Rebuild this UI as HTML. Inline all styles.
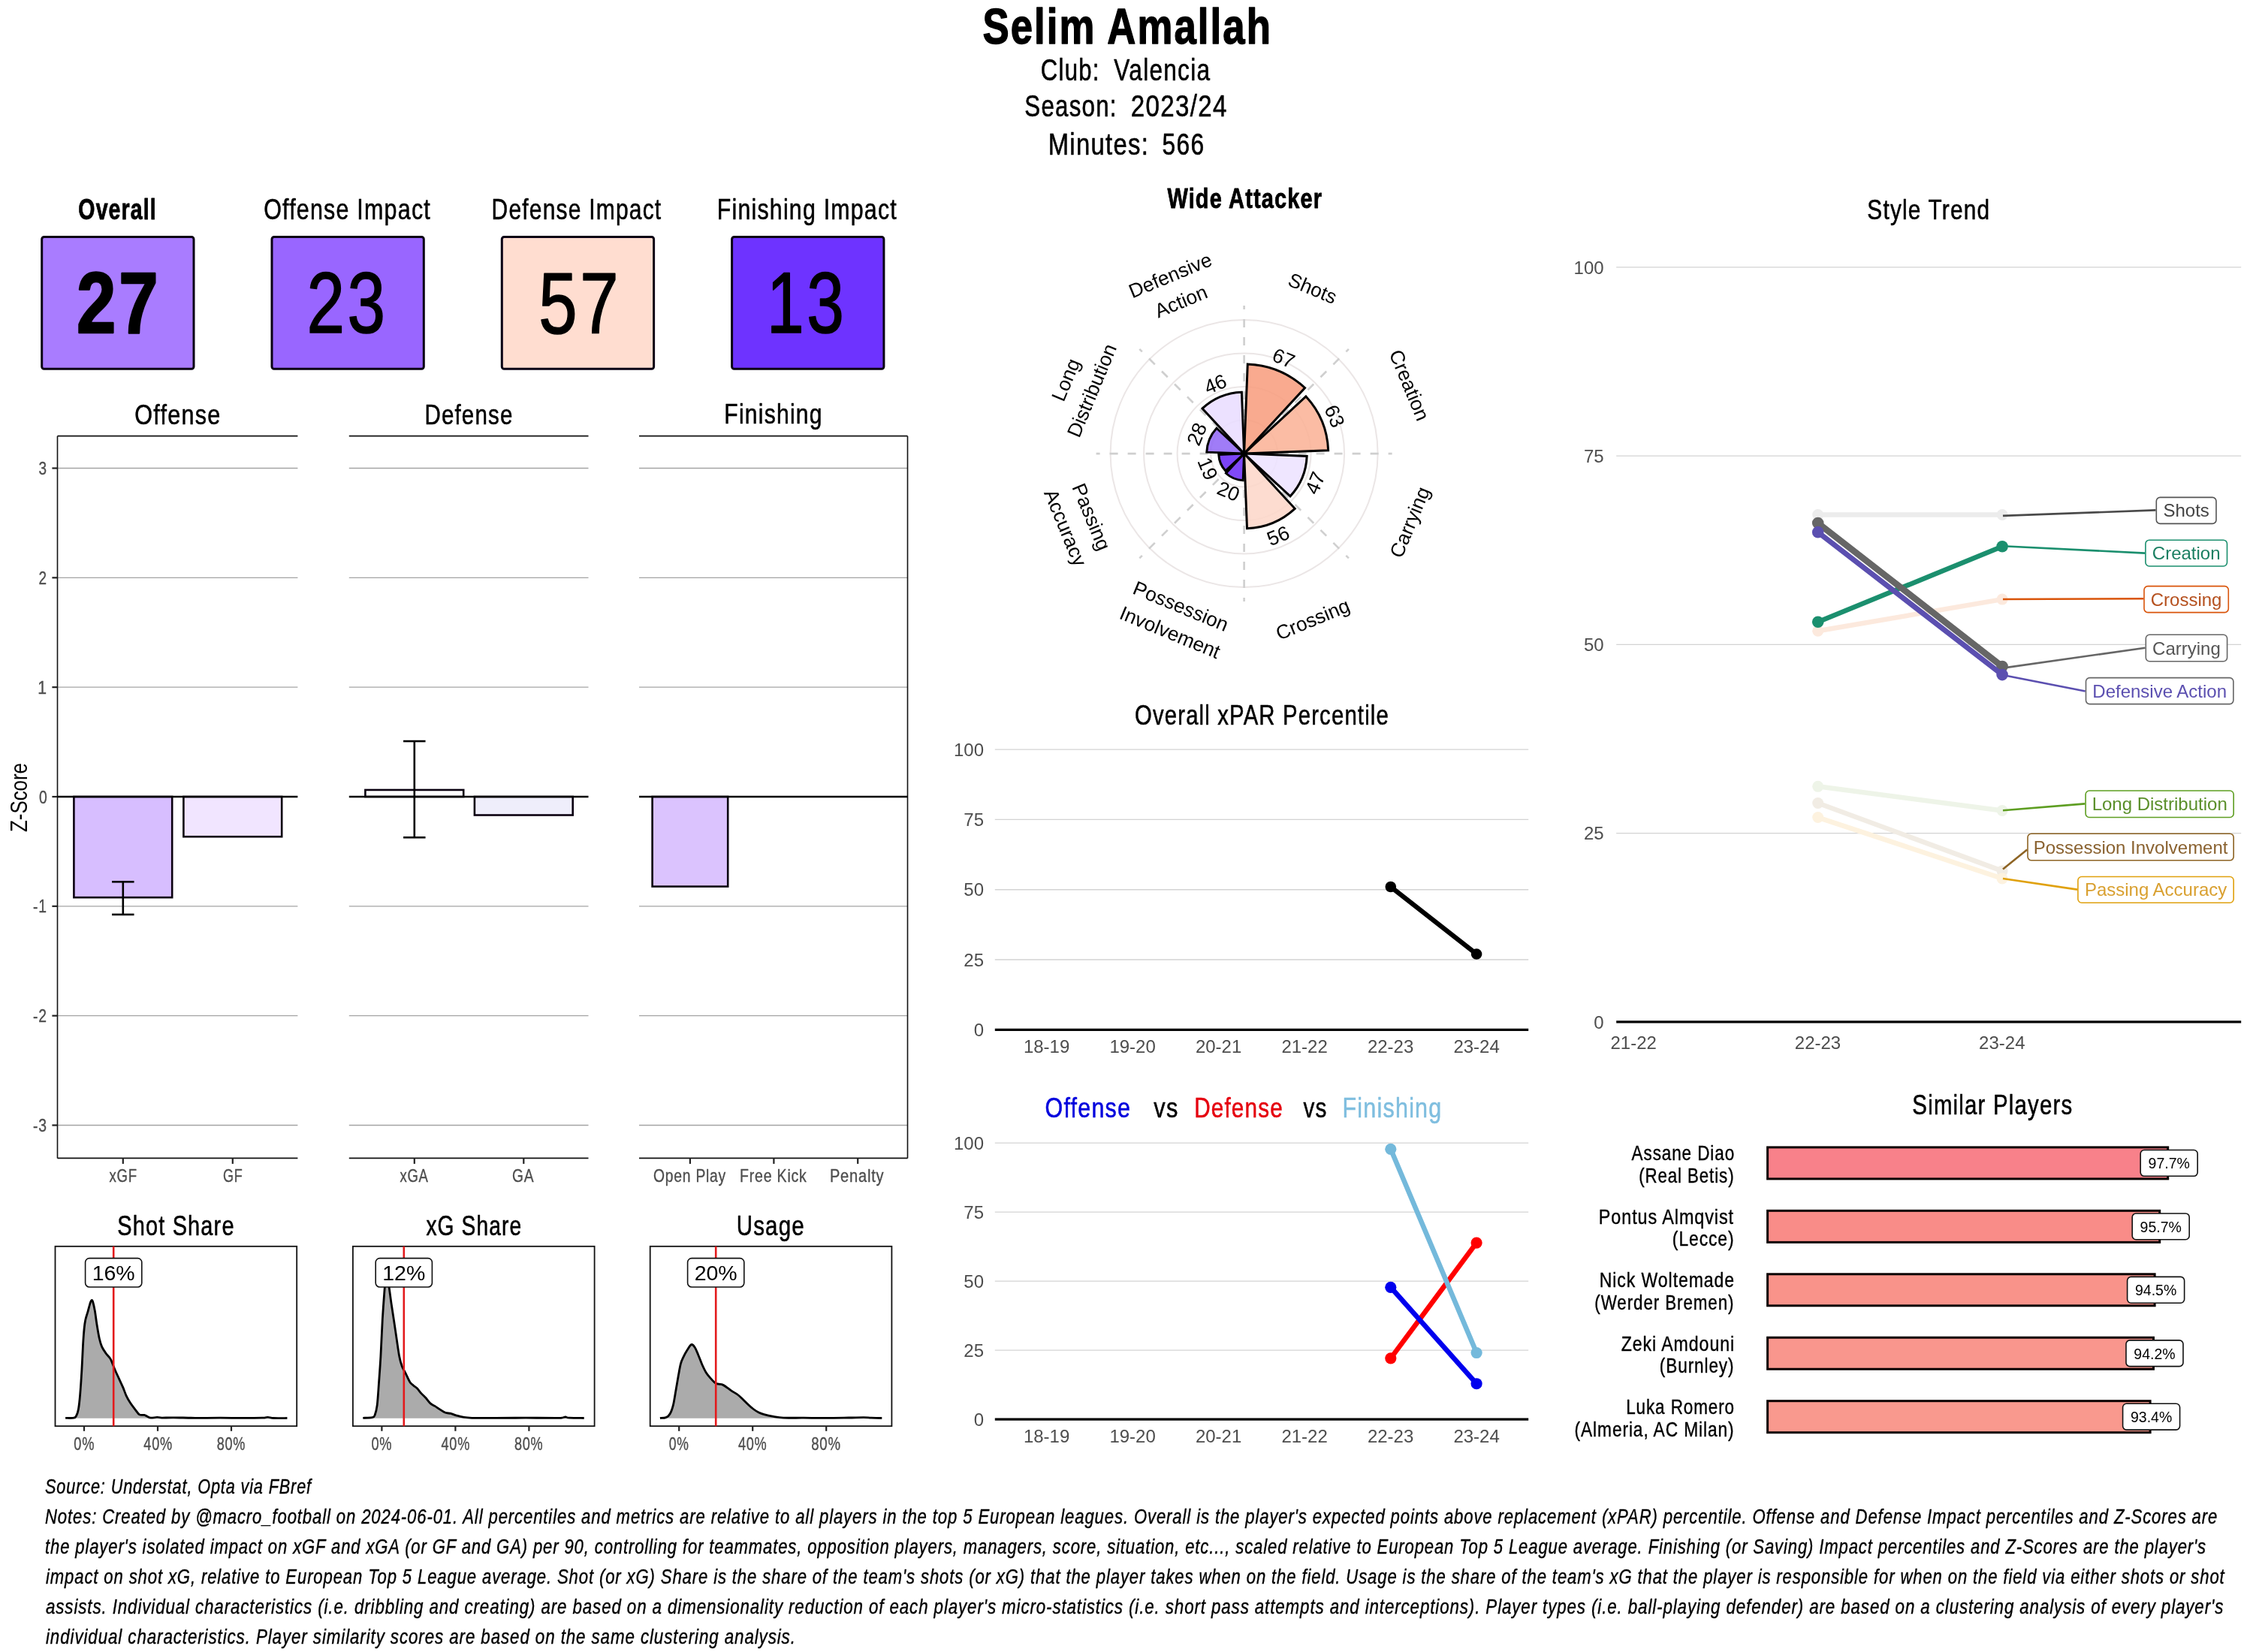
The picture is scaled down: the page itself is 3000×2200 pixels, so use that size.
<!DOCTYPE html>
<html><head><meta charset="utf-8"><style>
html,body{margin:0;padding:0;background:#fff;width:3000px;height:2200px;overflow:hidden}
svg{display:block;will-change:transform}
text{font-family:"Liberation Sans", sans-serif}
</style></head><body>
<svg xmlns="http://www.w3.org/2000/svg" width="3000" height="2200" viewBox="0 0 3000 2200">
<rect width="3000" height="2200" fill="#fff"/>
<text x="1308.47" y="58.00" font-size="67.30" fill="#000" stroke="#000" stroke-width="1.48" stroke-linejoin="round" font-weight="bold" textLength="385.57" lengthAdjust="spacingAndGlyphs" style="white-space:pre;letter-spacing:0.04em">Selim Amallah</text>
<text x="1385.82" y="107.00" font-size="40.70" fill="#000" stroke="#000" stroke-width="0.61" stroke-linejoin="round" textLength="78.75" lengthAdjust="spacingAndGlyphs" style="white-space:pre;letter-spacing:0.04em">Club:</text>
<text x="1483.35" y="107.00" font-size="40.70" fill="#000" stroke="#000" stroke-width="0.61" stroke-linejoin="round" textLength="128.89" lengthAdjust="spacingAndGlyphs" style="white-space:pre;letter-spacing:0.04em">Valencia</text>
<text x="1364.33" y="155.00" font-size="40.70" fill="#000" stroke="#000" stroke-width="0.61" stroke-linejoin="round" textLength="123.41" lengthAdjust="spacingAndGlyphs" style="white-space:pre;letter-spacing:0.04em">Season:</text>
<text x="1505.72" y="155.00" font-size="40.70" fill="#000" stroke="#000" stroke-width="0.61" stroke-linejoin="round" textLength="128.92" lengthAdjust="spacingAndGlyphs" style="white-space:pre;letter-spacing:0.04em">2023/24</text>
<text x="1395.68" y="205.80" font-size="40.70" fill="#000" stroke="#000" stroke-width="0.61" stroke-linejoin="round" textLength="134.50" lengthAdjust="spacingAndGlyphs" style="white-space:pre;letter-spacing:0.04em">Minutes:</text>
<text x="1547.61" y="205.80" font-size="40.70" fill="#000" stroke="#000" stroke-width="0.61" stroke-linejoin="round" textLength="57.02" lengthAdjust="spacingAndGlyphs" style="white-space:pre;letter-spacing:0.04em">566</text>
<text x="104.33" y="292.00" font-size="38.00" fill="#000" stroke="#000" stroke-width="0.84" stroke-linejoin="round" font-weight="bold" textLength="104.61" lengthAdjust="spacingAndGlyphs" style="white-space:pre;letter-spacing:0.04em">Overall</text>
<text x="351.15" y="292.00" font-size="38.00" fill="#000" stroke="#000" stroke-width="0.57" stroke-linejoin="round" textLength="222.85" lengthAdjust="spacingAndGlyphs" style="white-space:pre;letter-spacing:0.04em">Offense Impact</text>
<text x="654.55" y="292.00" font-size="38.00" fill="#000" stroke="#000" stroke-width="0.57" stroke-linejoin="round" textLength="226.86" lengthAdjust="spacingAndGlyphs" style="white-space:pre;letter-spacing:0.04em">Defense Impact</text>
<text x="954.70" y="292.00" font-size="38.00" fill="#000" stroke="#000" stroke-width="0.57" stroke-linejoin="round" textLength="240.29" lengthAdjust="spacingAndGlyphs" style="white-space:pre;letter-spacing:0.04em">Finishing Impact</text>
<rect x="55.70" y="315.40" width="202.30" height="175.80" fill="#A97CFF" stroke="#0A0014" stroke-width="3" rx="3" />
<text x="102.04" y="442.50" font-size="114.50" fill="#000" stroke="#000" stroke-width="2.52" stroke-linejoin="round" font-weight="bold" textLength="112.26" lengthAdjust="spacingAndGlyphs" style="white-space:pre;letter-spacing:0.04em">27</text>
<rect x="362.00" y="315.40" width="202.30" height="175.80" fill="#9966FF" stroke="#0A0014" stroke-width="3" rx="3" />
<text x="408.39" y="443.10" font-size="114.50" fill="#000" stroke="#000" stroke-width="1.72" stroke-linejoin="round" textLength="108.22" lengthAdjust="spacingAndGlyphs" style="white-space:pre;letter-spacing:0.04em">23</text>
<rect x="668.30" y="315.40" width="202.30" height="175.80" fill="#FFDDD0" stroke="#0A0014" stroke-width="3" rx="3" />
<text x="717.23" y="443.80" font-size="114.50" fill="#000" stroke="#000" stroke-width="1.72" stroke-linejoin="round" textLength="110.00" lengthAdjust="spacingAndGlyphs" style="white-space:pre;letter-spacing:0.04em">57</text>
<rect x="974.60" y="315.40" width="202.30" height="175.80" fill="#6E33FF" stroke="#0A0014" stroke-width="3" rx="3" />
<text x="1021.12" y="442.50" font-size="114.50" fill="#000" stroke="#000" stroke-width="1.72" stroke-linejoin="round" textLength="106.34" lengthAdjust="spacingAndGlyphs" style="white-space:pre;letter-spacing:0.04em">13</text>
<line x1="76.50" y1="1498.49" x2="396.40" y2="1498.49" stroke="#A4A4A4" stroke-width="1.3" />
<line x1="76.50" y1="1352.66" x2="396.40" y2="1352.66" stroke="#A4A4A4" stroke-width="1.3" />
<line x1="76.50" y1="1206.83" x2="396.40" y2="1206.83" stroke="#A4A4A4" stroke-width="1.3" />
<line x1="76.50" y1="915.17" x2="396.40" y2="915.17" stroke="#A4A4A4" stroke-width="1.3" />
<line x1="76.50" y1="769.34" x2="396.40" y2="769.34" stroke="#A4A4A4" stroke-width="1.3" />
<line x1="76.50" y1="623.51" x2="396.40" y2="623.51" stroke="#A4A4A4" stroke-width="1.3" />
<line x1="76.50" y1="580.70" x2="396.40" y2="580.70" stroke="#111" stroke-width="1.8" />
<line x1="76.50" y1="1542.40" x2="396.40" y2="1542.40" stroke="#111" stroke-width="1.8" />
<line x1="464.80" y1="1498.49" x2="783.50" y2="1498.49" stroke="#A4A4A4" stroke-width="1.3" />
<line x1="464.80" y1="1352.66" x2="783.50" y2="1352.66" stroke="#A4A4A4" stroke-width="1.3" />
<line x1="464.80" y1="1206.83" x2="783.50" y2="1206.83" stroke="#A4A4A4" stroke-width="1.3" />
<line x1="464.80" y1="915.17" x2="783.50" y2="915.17" stroke="#A4A4A4" stroke-width="1.3" />
<line x1="464.80" y1="769.34" x2="783.50" y2="769.34" stroke="#A4A4A4" stroke-width="1.3" />
<line x1="464.80" y1="623.51" x2="783.50" y2="623.51" stroke="#A4A4A4" stroke-width="1.3" />
<line x1="464.80" y1="580.70" x2="783.50" y2="580.70" stroke="#111" stroke-width="1.8" />
<line x1="464.80" y1="1542.40" x2="783.50" y2="1542.40" stroke="#111" stroke-width="1.8" />
<line x1="851.00" y1="1498.49" x2="1208.50" y2="1498.49" stroke="#A4A4A4" stroke-width="1.3" />
<line x1="851.00" y1="1352.66" x2="1208.50" y2="1352.66" stroke="#A4A4A4" stroke-width="1.3" />
<line x1="851.00" y1="1206.83" x2="1208.50" y2="1206.83" stroke="#A4A4A4" stroke-width="1.3" />
<line x1="851.00" y1="915.17" x2="1208.50" y2="915.17" stroke="#A4A4A4" stroke-width="1.3" />
<line x1="851.00" y1="769.34" x2="1208.50" y2="769.34" stroke="#A4A4A4" stroke-width="1.3" />
<line x1="851.00" y1="623.51" x2="1208.50" y2="623.51" stroke="#A4A4A4" stroke-width="1.3" />
<line x1="851.00" y1="580.70" x2="1208.50" y2="580.70" stroke="#111" stroke-width="1.8" />
<line x1="851.00" y1="1542.40" x2="1208.50" y2="1542.40" stroke="#111" stroke-width="1.8" />
<text x="179.33" y="564.70" font-size="37.50" fill="#000" stroke="#000" stroke-width="0.56" stroke-linejoin="round" textLength="115.13" lengthAdjust="spacingAndGlyphs" style="white-space:pre;letter-spacing:0.04em">Offense</text>
<text x="565.48" y="564.80" font-size="37.50" fill="#000" stroke="#000" stroke-width="0.56" stroke-linejoin="round" textLength="118.02" lengthAdjust="spacingAndGlyphs" style="white-space:pre;letter-spacing:0.04em">Defense</text>
<text x="964.32" y="564.40" font-size="37.50" fill="#000" stroke="#000" stroke-width="0.56" stroke-linejoin="round" textLength="131.38" lengthAdjust="spacingAndGlyphs" style="white-space:pre;letter-spacing:0.04em">Finishing</text>
<line x1="76.50" y1="580.70" x2="76.50" y2="1542.40" stroke="#111" stroke-width="1.6" />
<line x1="1208.50" y1="580.70" x2="1208.50" y2="1542.40" stroke="#111" stroke-width="1.6" />
<line x1="69.40" y1="1498.49" x2="76.50" y2="1498.49" stroke="#222" stroke-width="2.2" />
<text x="44.03" y="1507.09" font-size="24.50" fill="#4D4D4D" stroke="#4D4D4D" stroke-width="0.37" stroke-linejoin="round" textLength="18.74" lengthAdjust="spacingAndGlyphs" style="white-space:pre;letter-spacing:0.04em">-3</text>
<line x1="69.40" y1="1352.66" x2="76.50" y2="1352.66" stroke="#222" stroke-width="2.2" />
<text x="44.03" y="1361.26" font-size="24.50" fill="#4D4D4D" stroke="#4D4D4D" stroke-width="0.37" stroke-linejoin="round" textLength="18.74" lengthAdjust="spacingAndGlyphs" style="white-space:pre;letter-spacing:0.04em">-2</text>
<line x1="69.40" y1="1206.83" x2="76.50" y2="1206.83" stroke="#222" stroke-width="2.2" />
<text x="44.02" y="1215.43" font-size="24.50" fill="#4D4D4D" stroke="#4D4D4D" stroke-width="0.37" stroke-linejoin="round" textLength="18.73" lengthAdjust="spacingAndGlyphs" style="white-space:pre;letter-spacing:0.04em">-1</text>
<line x1="69.40" y1="1061.00" x2="76.50" y2="1061.00" stroke="#222" stroke-width="2.2" />
<text x="51.95" y="1069.60" font-size="24.50" fill="#4D4D4D" stroke="#4D4D4D" stroke-width="0.37" stroke-linejoin="round" textLength="11.54" lengthAdjust="spacingAndGlyphs" style="white-space:pre;letter-spacing:0.04em">0</text>
<line x1="69.40" y1="915.17" x2="76.50" y2="915.17" stroke="#222" stroke-width="2.2" />
<text x="50.24" y="923.77" font-size="24.50" fill="#4D4D4D" stroke="#4D4D4D" stroke-width="0.37" stroke-linejoin="round" textLength="12.67" lengthAdjust="spacingAndGlyphs" style="white-space:pre;letter-spacing:0.04em">1</text>
<line x1="69.40" y1="769.34" x2="76.50" y2="769.34" stroke="#222" stroke-width="2.2" />
<text x="51.58" y="777.94" font-size="24.50" fill="#4D4D4D" stroke="#4D4D4D" stroke-width="0.37" stroke-linejoin="round" textLength="11.28" lengthAdjust="spacingAndGlyphs" style="white-space:pre;letter-spacing:0.04em">2</text>
<line x1="69.40" y1="623.51" x2="76.50" y2="623.51" stroke="#222" stroke-width="2.2" />
<text x="51.56" y="632.11" font-size="24.50" fill="#4D4D4D" stroke="#4D4D4D" stroke-width="0.37" stroke-linejoin="round" textLength="11.29" lengthAdjust="spacingAndGlyphs" style="white-space:pre;letter-spacing:0.04em">3</text>
<text x="0" y="0" font-size="31" text-anchor="middle" fill="#000" textLength="92" lengthAdjust="spacingAndGlyphs" transform="translate(36.3,1062) rotate(-90)">Z-Score</text>
<line x1="163.80" y1="1542.40" x2="163.80" y2="1549.90" stroke="#222" stroke-width="2.2" />
<text x="145.51" y="1573.60" font-size="24.30" fill="#4D4D4D" stroke="#4D4D4D" stroke-width="0.36" stroke-linejoin="round" textLength="37.37" lengthAdjust="spacingAndGlyphs" style="white-space:pre;letter-spacing:0.04em">xGF</text>
<line x1="309.80" y1="1542.40" x2="309.80" y2="1549.90" stroke="#222" stroke-width="2.2" />
<text x="297.02" y="1573.60" font-size="24.30" fill="#4D4D4D" stroke="#4D4D4D" stroke-width="0.36" stroke-linejoin="round" textLength="26.50" lengthAdjust="spacingAndGlyphs" style="white-space:pre;letter-spacing:0.04em">GF</text>
<line x1="551.80" y1="1542.40" x2="551.80" y2="1549.90" stroke="#222" stroke-width="2.2" />
<text x="532.38" y="1573.60" font-size="24.30" fill="#4D4D4D" stroke="#4D4D4D" stroke-width="0.36" stroke-linejoin="round" textLength="38.25" lengthAdjust="spacingAndGlyphs" style="white-space:pre;letter-spacing:0.04em">xGA</text>
<line x1="697.30" y1="1542.40" x2="697.30" y2="1549.90" stroke="#222" stroke-width="2.2" />
<text x="682.05" y="1573.60" font-size="24.30" fill="#4D4D4D" stroke="#4D4D4D" stroke-width="0.36" stroke-linejoin="round" textLength="29.28" lengthAdjust="spacingAndGlyphs" style="white-space:pre;letter-spacing:0.04em">GA</text>
<line x1="918.90" y1="1542.40" x2="918.90" y2="1549.90" stroke="#222" stroke-width="2.2" />
<text x="869.98" y="1573.60" font-size="24.30" fill="#4D4D4D" stroke="#4D4D4D" stroke-width="0.36" stroke-linejoin="round" textLength="97.03" lengthAdjust="spacingAndGlyphs" style="white-space:pre;letter-spacing:0.04em">Open Play</text>
<line x1="1030.40" y1="1542.40" x2="1030.40" y2="1549.90" stroke="#222" stroke-width="2.2" />
<text x="985.11" y="1573.60" font-size="24.30" fill="#4D4D4D" stroke="#4D4D4D" stroke-width="0.36" stroke-linejoin="round" textLength="89.53" lengthAdjust="spacingAndGlyphs" style="white-space:pre;letter-spacing:0.04em">Free Kick</text>
<line x1="1142.20" y1="1542.40" x2="1142.20" y2="1549.90" stroke="#222" stroke-width="2.2" />
<text x="1104.92" y="1573.60" font-size="24.30" fill="#4D4D4D" stroke="#4D4D4D" stroke-width="0.36" stroke-linejoin="round" textLength="72.48" lengthAdjust="spacingAndGlyphs" style="white-space:pre;letter-spacing:0.04em">Penalty</text>
<rect x="98.40" y="1061.00" width="130.80" height="134.16" fill="#D7BEFF" stroke="#0A0010" stroke-width="2.6" rx="0" />
<rect x="244.40" y="1061.00" width="130.80" height="53.23" fill="#F1E5FF" stroke="#0A0010" stroke-width="2.6" rx="0" />
<rect x="486.40" y="1051.96" width="130.80" height="9.04" fill="#FFFFFF" stroke="#0A0010" stroke-width="2.6" rx="0" />
<rect x="631.90" y="1061.00" width="130.80" height="24.50" fill="#EFEEFB" stroke="#0A0010" stroke-width="2.6" rx="0" />
<rect x="868.60" y="1061.00" width="100.60" height="119.58" fill="#DBC3FE" stroke="#0A0010" stroke-width="2.6" rx="0" />
<line x1="76.50" y1="1061.00" x2="396.40" y2="1061.00" stroke="#000" stroke-width="2.4" />
<line x1="464.80" y1="1061.00" x2="783.50" y2="1061.00" stroke="#000" stroke-width="2.4" />
<line x1="851.00" y1="1061.00" x2="1208.50" y2="1061.00" stroke="#000" stroke-width="2.4" />
<line x1="163.80" y1="1174.31" x2="163.80" y2="1217.91" stroke="#000" stroke-width="2.6" />
<line x1="149.05" y1="1174.31" x2="178.55" y2="1174.31" stroke="#000" stroke-width="2.6" />
<line x1="149.05" y1="1217.91" x2="178.55" y2="1217.91" stroke="#000" stroke-width="2.6" />
<line x1="551.80" y1="987.06" x2="551.80" y2="1115.25" stroke="#000" stroke-width="2.6" />
<line x1="537.05" y1="987.06" x2="566.55" y2="987.06" stroke="#000" stroke-width="2.6" />
<line x1="537.05" y1="1115.25" x2="566.55" y2="1115.25" stroke="#000" stroke-width="2.6" />
<path d="M87.10,1888.40 C89.00,1888.37 96.05,1888.77 98.50,1888.20 C100.95,1887.63 100.80,1887.00 101.80,1885.00 C102.80,1883.00 103.68,1880.93 104.50,1876.20 C105.32,1871.47 105.97,1865.30 106.70,1856.60 C107.43,1847.90 108.27,1834.88 108.90,1824.00 C109.53,1813.12 109.97,1800.38 110.50,1791.30 C111.03,1782.22 111.55,1775.13 112.10,1769.50 C112.65,1763.87 112.98,1761.32 113.80,1757.50 C114.62,1753.68 115.92,1750.42 117.00,1746.60 C118.08,1742.78 119.48,1737.12 120.30,1734.60 C121.12,1732.08 121.35,1731.68 121.90,1731.50 C122.45,1731.32 122.87,1731.17 123.60,1733.50 C124.33,1735.83 125.40,1740.42 126.30,1745.50 C127.20,1750.58 128.00,1757.83 129.00,1764.00 C130.00,1770.17 131.20,1777.60 132.30,1782.50 C133.40,1787.40 134.15,1790.12 135.60,1793.40 C137.05,1796.68 139.18,1799.65 141.00,1802.20 C142.82,1804.75 145.23,1806.90 146.50,1808.70 C147.77,1810.50 147.52,1810.45 148.60,1813.00 C149.68,1815.55 151.37,1820.18 153.00,1824.00 C154.63,1827.82 156.58,1831.92 158.40,1835.90 C160.22,1839.88 162.27,1844.08 163.90,1847.90 C165.53,1851.72 166.57,1855.35 168.20,1858.80 C169.83,1862.25 171.70,1865.52 173.70,1868.60 C175.70,1871.68 178.20,1874.75 180.20,1877.30 C182.20,1879.85 183.70,1882.72 185.70,1883.90 C187.70,1885.08 190.57,1884.05 192.20,1884.40 C193.83,1884.75 194.05,1885.37 195.50,1886.00 C196.95,1886.63 198.63,1887.98 200.90,1888.20 C203.17,1888.42 206.68,1887.32 209.10,1887.30 C211.52,1887.28 211.77,1888.02 215.40,1888.10 C219.03,1888.18 223.47,1887.77 230.90,1887.80 C238.33,1887.83 249.65,1888.23 260.00,1888.30 C270.35,1888.37 283.00,1888.18 293.00,1888.20 C303.00,1888.22 310.67,1888.40 320.00,1888.40 C329.33,1888.40 342.88,1888.38 349.00,1888.20 C355.12,1888.02 354.12,1887.25 356.70,1887.30 C359.28,1887.35 360.22,1888.30 364.50,1888.50 C368.78,1888.70 379.42,1888.50 382.40,1888.50 L382.40,1888.8 L87.10,1888.8 Z" fill="#ABABAB" stroke="none"/>
<path d="M87.10,1888.40 C89.00,1888.37 96.05,1888.77 98.50,1888.20 C100.95,1887.63 100.80,1887.00 101.80,1885.00 C102.80,1883.00 103.68,1880.93 104.50,1876.20 C105.32,1871.47 105.97,1865.30 106.70,1856.60 C107.43,1847.90 108.27,1834.88 108.90,1824.00 C109.53,1813.12 109.97,1800.38 110.50,1791.30 C111.03,1782.22 111.55,1775.13 112.10,1769.50 C112.65,1763.87 112.98,1761.32 113.80,1757.50 C114.62,1753.68 115.92,1750.42 117.00,1746.60 C118.08,1742.78 119.48,1737.12 120.30,1734.60 C121.12,1732.08 121.35,1731.68 121.90,1731.50 C122.45,1731.32 122.87,1731.17 123.60,1733.50 C124.33,1735.83 125.40,1740.42 126.30,1745.50 C127.20,1750.58 128.00,1757.83 129.00,1764.00 C130.00,1770.17 131.20,1777.60 132.30,1782.50 C133.40,1787.40 134.15,1790.12 135.60,1793.40 C137.05,1796.68 139.18,1799.65 141.00,1802.20 C142.82,1804.75 145.23,1806.90 146.50,1808.70 C147.77,1810.50 147.52,1810.45 148.60,1813.00 C149.68,1815.55 151.37,1820.18 153.00,1824.00 C154.63,1827.82 156.58,1831.92 158.40,1835.90 C160.22,1839.88 162.27,1844.08 163.90,1847.90 C165.53,1851.72 166.57,1855.35 168.20,1858.80 C169.83,1862.25 171.70,1865.52 173.70,1868.60 C175.70,1871.68 178.20,1874.75 180.20,1877.30 C182.20,1879.85 183.70,1882.72 185.70,1883.90 C187.70,1885.08 190.57,1884.05 192.20,1884.40 C193.83,1884.75 194.05,1885.37 195.50,1886.00 C196.95,1886.63 198.63,1887.98 200.90,1888.20 C203.17,1888.42 206.68,1887.32 209.10,1887.30 C211.52,1887.28 211.77,1888.02 215.40,1888.10 C219.03,1888.18 223.47,1887.77 230.90,1887.80 C238.33,1887.83 249.65,1888.23 260.00,1888.30 C270.35,1888.37 283.00,1888.18 293.00,1888.20 C303.00,1888.22 310.67,1888.40 320.00,1888.40 C329.33,1888.40 342.88,1888.38 349.00,1888.20 C355.12,1888.02 354.12,1887.25 356.70,1887.30 C359.28,1887.35 360.22,1888.30 364.50,1888.50 C368.78,1888.70 379.42,1888.50 382.40,1888.50" fill="none" stroke="#000" stroke-width="2.8" stroke-linejoin="round"/>
<rect x="73.50" y="1659.80" width="321.70" height="239.40" fill="none" stroke="#111" stroke-width="1.8" rx="0" />
<line x1="151.20" y1="1659.80" x2="151.20" y2="1899.20" stroke="#E31A1C" stroke-width="2.6" />
<rect x="113.60" y="1675.60" width="75.20" height="38.40" fill="#FFFFFF" stroke="#111" stroke-width="1.6" rx="5.5" />
<text x="151.2" y="1705.3" font-size="28.5" text-anchor="middle" fill="#000" >16%</text>
<line x1="112.00" y1="1899.20" x2="112.00" y2="1905.80" stroke="#222" stroke-width="2.2" />
<text x="98.32" y="1931.00" font-size="23.20" fill="#4D4D4D" stroke="#4D4D4D" stroke-width="0.35" stroke-linejoin="round" textLength="27.81" lengthAdjust="spacingAndGlyphs" style="white-space:pre;letter-spacing:0.04em">0%</text>
<line x1="210.00" y1="1899.20" x2="210.00" y2="1905.80" stroke="#222" stroke-width="2.2" />
<text x="191.34" y="1931.00" font-size="23.20" fill="#4D4D4D" stroke="#4D4D4D" stroke-width="0.35" stroke-linejoin="round" textLength="38.52" lengthAdjust="spacingAndGlyphs" style="white-space:pre;letter-spacing:0.04em">40%</text>
<line x1="308.00" y1="1899.20" x2="308.00" y2="1905.80" stroke="#222" stroke-width="2.2" />
<text x="288.72" y="1931.00" font-size="23.20" fill="#4D4D4D" stroke="#4D4D4D" stroke-width="0.35" stroke-linejoin="round" textLength="38.30" lengthAdjust="spacingAndGlyphs" style="white-space:pre;letter-spacing:0.04em">80%</text>
<text x="156.35" y="1644.60" font-size="37.50" fill="#000" stroke="#000" stroke-width="0.56" stroke-linejoin="round" textLength="156.29" lengthAdjust="spacingAndGlyphs" style="white-space:pre;letter-spacing:0.04em">Shot Share</text>
<path d="M483.30,1888.30 C485.37,1888.20 493.05,1888.38 495.70,1887.70 C498.35,1887.02 498.12,1886.95 499.20,1884.20 C500.28,1881.45 501.32,1878.28 502.20,1871.20 C503.08,1864.12 503.72,1852.52 504.50,1841.70 C505.28,1830.88 506.12,1820.08 506.90,1806.30 C507.68,1792.52 508.42,1772.78 509.20,1759.00 C509.98,1745.22 510.97,1732.10 511.60,1723.60 C512.23,1715.10 512.47,1711.60 513.00,1708.00 C513.53,1704.40 514.20,1702.33 514.80,1702.00 C515.40,1701.67 516.05,1703.97 516.60,1706.00 C517.15,1708.03 517.37,1709.30 518.10,1714.20 C518.83,1719.10 519.92,1727.93 521.00,1735.40 C522.08,1742.87 523.42,1751.12 524.60,1759.00 C525.78,1766.88 526.92,1774.82 528.10,1782.70 C529.28,1790.58 530.52,1800.20 531.70,1806.30 C532.88,1812.40 533.82,1815.57 535.20,1819.30 C536.58,1823.03 538.23,1825.17 540.00,1828.70 C541.77,1832.23 544.03,1837.75 545.80,1840.50 C547.57,1843.25 549.02,1843.82 550.60,1845.20 C552.18,1846.58 553.53,1847.02 555.30,1848.80 C557.07,1850.58 559.23,1853.73 561.20,1855.90 C563.17,1858.07 565.13,1859.63 567.10,1861.80 C569.07,1863.97 571.03,1867.13 573.00,1868.90 C574.97,1870.67 576.73,1871.03 578.90,1872.40 C581.07,1873.77 583.63,1875.62 586.00,1877.10 C588.37,1878.58 590.73,1880.42 593.10,1881.30 C595.47,1882.18 597.85,1881.82 600.20,1882.40 C602.55,1882.98 604.45,1884.00 607.20,1884.80 C609.95,1885.60 613.15,1886.62 616.70,1887.20 C620.25,1887.78 621.28,1888.10 628.50,1888.30 C635.72,1888.50 648.08,1888.42 660.00,1888.40 C671.92,1888.38 686.67,1888.20 700.00,1888.20 C713.33,1888.20 732.00,1888.40 740.00,1888.40 C748.00,1888.40 745.83,1888.43 748.00,1888.20 C750.17,1887.97 751.33,1887.00 753.00,1887.00 C754.67,1887.00 753.88,1887.95 758.00,1888.20 C762.12,1888.45 774.42,1888.45 777.70,1888.50 L777.70,1888.8 L483.30,1888.8 Z" fill="#ABABAB" stroke="none"/>
<path d="M483.30,1888.30 C485.37,1888.20 493.05,1888.38 495.70,1887.70 C498.35,1887.02 498.12,1886.95 499.20,1884.20 C500.28,1881.45 501.32,1878.28 502.20,1871.20 C503.08,1864.12 503.72,1852.52 504.50,1841.70 C505.28,1830.88 506.12,1820.08 506.90,1806.30 C507.68,1792.52 508.42,1772.78 509.20,1759.00 C509.98,1745.22 510.97,1732.10 511.60,1723.60 C512.23,1715.10 512.47,1711.60 513.00,1708.00 C513.53,1704.40 514.20,1702.33 514.80,1702.00 C515.40,1701.67 516.05,1703.97 516.60,1706.00 C517.15,1708.03 517.37,1709.30 518.10,1714.20 C518.83,1719.10 519.92,1727.93 521.00,1735.40 C522.08,1742.87 523.42,1751.12 524.60,1759.00 C525.78,1766.88 526.92,1774.82 528.10,1782.70 C529.28,1790.58 530.52,1800.20 531.70,1806.30 C532.88,1812.40 533.82,1815.57 535.20,1819.30 C536.58,1823.03 538.23,1825.17 540.00,1828.70 C541.77,1832.23 544.03,1837.75 545.80,1840.50 C547.57,1843.25 549.02,1843.82 550.60,1845.20 C552.18,1846.58 553.53,1847.02 555.30,1848.80 C557.07,1850.58 559.23,1853.73 561.20,1855.90 C563.17,1858.07 565.13,1859.63 567.10,1861.80 C569.07,1863.97 571.03,1867.13 573.00,1868.90 C574.97,1870.67 576.73,1871.03 578.90,1872.40 C581.07,1873.77 583.63,1875.62 586.00,1877.10 C588.37,1878.58 590.73,1880.42 593.10,1881.30 C595.47,1882.18 597.85,1881.82 600.20,1882.40 C602.55,1882.98 604.45,1884.00 607.20,1884.80 C609.95,1885.60 613.15,1886.62 616.70,1887.20 C620.25,1887.78 621.28,1888.10 628.50,1888.30 C635.72,1888.50 648.08,1888.42 660.00,1888.40 C671.92,1888.38 686.67,1888.20 700.00,1888.20 C713.33,1888.20 732.00,1888.40 740.00,1888.40 C748.00,1888.40 745.83,1888.43 748.00,1888.20 C750.17,1887.97 751.33,1887.00 753.00,1887.00 C754.67,1887.00 753.88,1887.95 758.00,1888.20 C762.12,1888.45 774.42,1888.45 777.70,1888.50" fill="none" stroke="#000" stroke-width="2.8" stroke-linejoin="round"/>
<rect x="469.90" y="1659.80" width="321.70" height="239.40" fill="none" stroke="#111" stroke-width="1.8" rx="0" />
<line x1="537.80" y1="1659.80" x2="537.80" y2="1899.20" stroke="#E31A1C" stroke-width="2.6" />
<rect x="500.20" y="1675.60" width="75.20" height="38.40" fill="#FFFFFF" stroke="#111" stroke-width="1.6" rx="5.5" />
<text x="537.8" y="1705.3" font-size="28.5" text-anchor="middle" fill="#000" >12%</text>
<line x1="508.40" y1="1899.20" x2="508.40" y2="1905.80" stroke="#222" stroke-width="2.2" />
<text x="494.50" y="1931.00" font-size="23.20" fill="#4D4D4D" stroke="#4D4D4D" stroke-width="0.35" stroke-linejoin="round" textLength="27.81" lengthAdjust="spacingAndGlyphs" style="white-space:pre;letter-spacing:0.04em">0%</text>
<line x1="606.40" y1="1899.20" x2="606.40" y2="1905.80" stroke="#222" stroke-width="2.2" />
<text x="587.56" y="1931.00" font-size="23.20" fill="#4D4D4D" stroke="#4D4D4D" stroke-width="0.35" stroke-linejoin="round" textLength="38.47" lengthAdjust="spacingAndGlyphs" style="white-space:pre;letter-spacing:0.04em">40%</text>
<line x1="704.40" y1="1899.20" x2="704.40" y2="1905.80" stroke="#222" stroke-width="2.2" />
<text x="684.88" y="1931.00" font-size="23.20" fill="#4D4D4D" stroke="#4D4D4D" stroke-width="0.35" stroke-linejoin="round" textLength="38.45" lengthAdjust="spacingAndGlyphs" style="white-space:pre;letter-spacing:0.04em">80%</text>
<text x="567.39" y="1644.60" font-size="37.50" fill="#000" stroke="#000" stroke-width="0.56" stroke-linejoin="round" textLength="128.04" lengthAdjust="spacingAndGlyphs" style="white-space:pre;letter-spacing:0.04em">xG Share</text>
<path d="M878.90,1888.50 C880.23,1888.35 884.68,1888.57 886.90,1887.60 C889.12,1886.63 890.58,1885.58 892.20,1882.70 C893.82,1879.82 895.27,1875.77 896.60,1870.30 C897.93,1864.83 899.08,1856.27 900.20,1849.90 C901.32,1843.53 902.27,1837.72 903.30,1832.10 C904.33,1826.48 905.30,1820.33 906.40,1816.20 C907.50,1812.07 908.42,1810.42 909.90,1807.30 C911.38,1804.18 913.52,1800.28 915.30,1797.50 C917.08,1794.72 918.98,1791.18 920.60,1790.60 C922.22,1790.02 923.52,1791.82 925.00,1794.00 C926.48,1796.18 927.87,1799.87 929.50,1803.70 C931.13,1807.53 933.03,1813.00 934.80,1817.00 C936.57,1821.00 938.18,1824.58 940.10,1827.70 C942.02,1830.82 944.22,1833.33 946.30,1835.70 C948.38,1838.07 950.82,1840.65 952.60,1841.90 C954.38,1843.15 955.38,1842.83 957.00,1843.20 C958.62,1843.57 960.38,1843.28 962.30,1844.10 C964.22,1844.92 966.43,1846.68 968.50,1848.10 C970.57,1849.52 972.47,1851.12 974.70,1852.60 C976.93,1854.08 979.53,1855.23 981.90,1857.00 C984.27,1858.77 986.53,1860.98 988.90,1863.20 C991.27,1865.42 993.72,1868.08 996.10,1870.30 C998.48,1872.52 1000.83,1874.72 1003.20,1876.50 C1005.57,1878.28 1007.93,1879.82 1010.30,1881.00 C1012.67,1882.18 1014.15,1882.72 1017.40,1883.60 C1020.65,1884.48 1025.52,1885.55 1029.80,1886.30 C1034.08,1887.05 1036.40,1887.78 1043.10,1888.10 C1049.80,1888.42 1060.52,1888.15 1070.00,1888.20 C1079.48,1888.25 1090.00,1888.43 1100.00,1888.40 C1110.00,1888.37 1121.67,1888.13 1130.00,1888.00 C1138.33,1887.87 1145.00,1887.58 1150.00,1887.60 C1155.00,1887.62 1155.95,1887.95 1160.00,1888.10 C1164.05,1888.25 1171.92,1888.43 1174.30,1888.50 L1174.30,1888.8 L878.90,1888.8 Z" fill="#ABABAB" stroke="none"/>
<path d="M878.90,1888.50 C880.23,1888.35 884.68,1888.57 886.90,1887.60 C889.12,1886.63 890.58,1885.58 892.20,1882.70 C893.82,1879.82 895.27,1875.77 896.60,1870.30 C897.93,1864.83 899.08,1856.27 900.20,1849.90 C901.32,1843.53 902.27,1837.72 903.30,1832.10 C904.33,1826.48 905.30,1820.33 906.40,1816.20 C907.50,1812.07 908.42,1810.42 909.90,1807.30 C911.38,1804.18 913.52,1800.28 915.30,1797.50 C917.08,1794.72 918.98,1791.18 920.60,1790.60 C922.22,1790.02 923.52,1791.82 925.00,1794.00 C926.48,1796.18 927.87,1799.87 929.50,1803.70 C931.13,1807.53 933.03,1813.00 934.80,1817.00 C936.57,1821.00 938.18,1824.58 940.10,1827.70 C942.02,1830.82 944.22,1833.33 946.30,1835.70 C948.38,1838.07 950.82,1840.65 952.60,1841.90 C954.38,1843.15 955.38,1842.83 957.00,1843.20 C958.62,1843.57 960.38,1843.28 962.30,1844.10 C964.22,1844.92 966.43,1846.68 968.50,1848.10 C970.57,1849.52 972.47,1851.12 974.70,1852.60 C976.93,1854.08 979.53,1855.23 981.90,1857.00 C984.27,1858.77 986.53,1860.98 988.90,1863.20 C991.27,1865.42 993.72,1868.08 996.10,1870.30 C998.48,1872.52 1000.83,1874.72 1003.20,1876.50 C1005.57,1878.28 1007.93,1879.82 1010.30,1881.00 C1012.67,1882.18 1014.15,1882.72 1017.40,1883.60 C1020.65,1884.48 1025.52,1885.55 1029.80,1886.30 C1034.08,1887.05 1036.40,1887.78 1043.10,1888.10 C1049.80,1888.42 1060.52,1888.15 1070.00,1888.20 C1079.48,1888.25 1090.00,1888.43 1100.00,1888.40 C1110.00,1888.37 1121.67,1888.13 1130.00,1888.00 C1138.33,1887.87 1145.00,1887.58 1150.00,1887.60 C1155.00,1887.62 1155.95,1887.95 1160.00,1888.10 C1164.05,1888.25 1171.92,1888.43 1174.30,1888.50" fill="none" stroke="#000" stroke-width="2.8" stroke-linejoin="round"/>
<rect x="865.70" y="1659.80" width="321.70" height="239.40" fill="none" stroke="#111" stroke-width="1.8" rx="0" />
<line x1="953.20" y1="1659.80" x2="953.20" y2="1899.20" stroke="#E31A1C" stroke-width="2.6" />
<rect x="915.60" y="1675.60" width="75.20" height="38.40" fill="#FFFFFF" stroke="#111" stroke-width="1.6" rx="5.5" />
<text x="953.2" y="1705.3" font-size="28.5" text-anchor="middle" fill="#000" >20%</text>
<line x1="904.20" y1="1899.20" x2="904.20" y2="1905.80" stroke="#222" stroke-width="2.2" />
<text x="890.87" y="1931.00" font-size="23.20" fill="#4D4D4D" stroke="#4D4D4D" stroke-width="0.35" stroke-linejoin="round" textLength="26.76" lengthAdjust="spacingAndGlyphs" style="white-space:pre;letter-spacing:0.04em">0%</text>
<line x1="1002.20" y1="1899.20" x2="1002.20" y2="1905.80" stroke="#222" stroke-width="2.2" />
<text x="982.96" y="1931.00" font-size="23.20" fill="#4D4D4D" stroke="#4D4D4D" stroke-width="0.35" stroke-linejoin="round" textLength="38.53" lengthAdjust="spacingAndGlyphs" style="white-space:pre;letter-spacing:0.04em">40%</text>
<line x1="1100.20" y1="1899.20" x2="1100.20" y2="1905.80" stroke="#222" stroke-width="2.2" />
<text x="1080.29" y="1931.00" font-size="23.20" fill="#4D4D4D" stroke="#4D4D4D" stroke-width="0.35" stroke-linejoin="round" textLength="39.45" lengthAdjust="spacingAndGlyphs" style="white-space:pre;letter-spacing:0.04em">80%</text>
<text x="980.65" y="1644.60" font-size="37.50" fill="#000" stroke="#000" stroke-width="0.56" stroke-linejoin="round" textLength="91.20" lengthAdjust="spacingAndGlyphs" style="white-space:pre;letter-spacing:0.04em">Usage</text>
<text x="1554.40" y="276.80" font-size="37.50" fill="#000" stroke="#000" stroke-width="0.82" stroke-linejoin="round" font-weight="bold" textLength="206.82" lengthAdjust="spacingAndGlyphs" style="white-space:pre;letter-spacing:0.04em">Wide Attacker</text>
<circle cx="1656.6" cy="604.1" r="44.50" fill="none" stroke="#EBE6E6" stroke-width="2"/>
<circle cx="1656.6" cy="604.1" r="89.00" fill="none" stroke="#EBE6E6" stroke-width="2"/>
<circle cx="1656.6" cy="604.1" r="133.50" fill="none" stroke="#EBE6E6" stroke-width="2"/>
<circle cx="1656.6" cy="604.1" r="178.00" fill="none" stroke="#EBE6E6" stroke-width="2"/>
<line x1="1656.60" y1="604.10" x2="1656.60" y2="407.10" stroke="#CFCFCF" stroke-width="2.6" stroke-dasharray="11 13"/>
<line x1="1656.60" y1="604.10" x2="1795.90" y2="464.80" stroke="#CFCFCF" stroke-width="2.6" stroke-dasharray="11 13"/>
<line x1="1656.60" y1="604.10" x2="1853.60" y2="604.10" stroke="#CFCFCF" stroke-width="2.6" stroke-dasharray="11 13"/>
<line x1="1656.60" y1="604.10" x2="1795.90" y2="743.40" stroke="#CFCFCF" stroke-width="2.6" stroke-dasharray="11 13"/>
<line x1="1656.60" y1="604.10" x2="1656.60" y2="801.10" stroke="#CFCFCF" stroke-width="2.6" stroke-dasharray="11 13"/>
<line x1="1656.60" y1="604.10" x2="1517.30" y2="743.40" stroke="#CFCFCF" stroke-width="2.6" stroke-dasharray="11 13"/>
<line x1="1656.60" y1="604.10" x2="1459.60" y2="604.10" stroke="#CFCFCF" stroke-width="2.6" stroke-dasharray="11 13"/>
<line x1="1656.60" y1="604.10" x2="1517.30" y2="464.80" stroke="#CFCFCF" stroke-width="2.6" stroke-dasharray="11 13"/>
<path d="M1656.6,604.1 L1661.28,484.93 A119.26,119.26 0 0 1 1737.55,516.52 Z" fill="rgb(248,155,123)" fill-opacity="0.85" stroke="#000" stroke-width="3" stroke-linejoin="miter"/>
<path d="M1656.6,604.1 L1738.95,527.98 A112.14,112.14 0 0 1 1768.65,599.70 Z" fill="rgb(250,176,148)" fill-opacity="0.85" stroke="#000" stroke-width="3" stroke-linejoin="miter"/>
<path d="M1656.6,604.1 L1740.20,607.38 A83.66,83.66 0 0 1 1718.03,660.89 Z" fill="rgb(236,226,255)" fill-opacity="0.85" stroke="#000" stroke-width="3" stroke-linejoin="miter"/>
<path d="M1656.6,604.1 L1724.26,677.30 A99.68,99.68 0 0 1 1660.51,703.70 Z" fill="rgb(253,214,200)" fill-opacity="0.85" stroke="#000" stroke-width="3" stroke-linejoin="miter"/>
<path d="M1656.6,604.1 L1655.20,639.67 A35.60,35.60 0 0 1 1632.43,630.24 Z" fill="rgb(106,41,246)" fill-opacity="0.85" stroke="#000" stroke-width="3" stroke-linejoin="miter"/>
<path d="M1656.6,604.1 L1631.77,627.06 A33.82,33.82 0 0 1 1622.81,605.43 Z" fill="rgb(101,35,247)" fill-opacity="0.85" stroke="#000" stroke-width="3" stroke-linejoin="miter"/>
<path d="M1656.6,604.1 L1606.80,602.14 A49.84,49.84 0 0 1 1620.00,570.27 Z" fill="rgb(143,101,246)" fill-opacity="0.85" stroke="#000" stroke-width="3" stroke-linejoin="miter"/>
<path d="M1656.6,604.1 L1601.02,543.97 A81.88,81.88 0 0 1 1653.39,522.28 Z" fill="rgb(233,220,255)" fill-opacity="0.85" stroke="#000" stroke-width="3" stroke-linejoin="miter"/>
<text x="0" y="0" font-size="26.5" text-anchor="middle" fill="#000" transform="translate(1709.32,476.83) rotate(22.5)" dy="9.3">67</text>
<text x="0" y="0" font-size="26.5" text-anchor="middle" fill="#000" transform="translate(1777.30,554.11) rotate(67.5)" dy="9.3">63</text>
<text x="0" y="0" font-size="26.5" text-anchor="middle" fill="#000" transform="translate(1750.98,643.19) rotate(-67.5)" dy="9.3">47</text>
<text x="0" y="0" font-size="26.5" text-anchor="middle" fill="#000" transform="translate(1701.83,713.28) rotate(-22.5)" dy="9.3">56</text>
<text x="0" y="0" font-size="26.5" text-anchor="middle" fill="#000" transform="translate(1635.90,654.08) rotate(22.5)" dy="9.3">20</text>
<text x="0" y="0" font-size="26.5" text-anchor="middle" fill="#000" transform="translate(1608.26,624.12) rotate(67.5)" dy="9.3">19</text>
<text x="0" y="0" font-size="26.5" text-anchor="middle" fill="#000" transform="translate(1593.46,577.95) rotate(-67.5)" dy="9.3">28</text>
<text x="0" y="0" font-size="26.5" text-anchor="middle" fill="#000" transform="translate(1618.19,511.36) rotate(-22.5)" dy="9.3">46</text>
<text x="0" y="0" font-size="26.3" text-anchor="middle" fill="#000" transform="translate(1747.87,383.75) rotate(22.5)" dy="9.3">Shots</text>
<text x="0" y="0" font-size="26.3" text-anchor="middle" fill="#000" transform="translate(1876.95,512.83) rotate(67.5)" dy="9.3">Creation</text>
<text x="0" y="0" font-size="26.3" text-anchor="middle" fill="#000" transform="translate(1876.95,695.37) rotate(-67.5)" dy="9.3">Carrying</text>
<text x="0" y="0" font-size="26.3" text-anchor="middle" fill="#000" transform="translate(1747.87,824.45) rotate(-22.5)" dy="9.3">Crossing</text>
<text x="0" y="0" font-size="26.3" text-anchor="middle" fill="#000" transform="translate(1572.51,807.12) rotate(22.5)" dy="9.3">Possession</text>
<text x="0" y="0" font-size="26.3" text-anchor="middle" fill="#000" transform="translate(1558.15,841.77) rotate(22.5)" dy="9.3">Involvement</text>
<text x="0" y="0" font-size="26.3" text-anchor="middle" fill="#000" transform="translate(1453.58,688.19) rotate(67.5)" dy="9.3">Passing</text>
<text x="0" y="0" font-size="26.3" text-anchor="middle" fill="#000" transform="translate(1418.93,702.55) rotate(67.5)" dy="9.3">Accuracy</text>
<text x="0" y="0" font-size="26.3" text-anchor="middle" fill="#000" transform="translate(1418.93,505.65) rotate(-67.5)" dy="9.3">Long</text>
<text x="0" y="0" font-size="26.3" text-anchor="middle" fill="#000" transform="translate(1453.58,520.01) rotate(-67.5)" dy="9.3">Distribution</text>
<text x="0" y="0" font-size="26.3" text-anchor="middle" fill="#000" transform="translate(1558.15,366.43) rotate(-22.5)" dy="9.3">Defensive</text>
<text x="0" y="0" font-size="26.3" text-anchor="middle" fill="#000" transform="translate(1572.51,401.08) rotate(-22.5)" dy="9.3">Action</text>
<line x1="1324.80" y1="1278.02" x2="2035.20" y2="1278.02" stroke="#D3D3D3" stroke-width="1.3" />
<line x1="1324.80" y1="1184.75" x2="2035.20" y2="1184.75" stroke="#D3D3D3" stroke-width="1.3" />
<line x1="1324.80" y1="1091.47" x2="2035.20" y2="1091.47" stroke="#D3D3D3" stroke-width="1.3" />
<line x1="1324.80" y1="998.20" x2="2035.20" y2="998.20" stroke="#D3D3D3" stroke-width="1.3" />
<line x1="1324.80" y1="1371.30" x2="2035.20" y2="1371.30" stroke="#000" stroke-width="3.2" />
<text x="1310.0" y="1379.9" font-size="24" text-anchor="end" fill="#4D4D4D" >0</text>
<text x="1310.0" y="1286.6" font-size="24" text-anchor="end" fill="#4D4D4D" >25</text>
<text x="1310.0" y="1193.3" font-size="24" text-anchor="end" fill="#4D4D4D" >50</text>
<text x="1310.0" y="1100.1" font-size="24" text-anchor="end" fill="#4D4D4D" >75</text>
<text x="1310.0" y="1006.8" font-size="24" text-anchor="end" fill="#4D4D4D" >100</text>
<text x="1393.6" y="1402.3" font-size="24" text-anchor="middle" fill="#4D4D4D" >18-19</text>
<text x="1508.1" y="1402.3" font-size="24" text-anchor="middle" fill="#4D4D4D" >19-20</text>
<text x="1622.6" y="1402.3" font-size="24" text-anchor="middle" fill="#4D4D4D" >20-21</text>
<text x="1737.1" y="1402.3" font-size="24" text-anchor="middle" fill="#4D4D4D" >21-22</text>
<text x="1851.6" y="1402.3" font-size="24" text-anchor="middle" fill="#4D4D4D" >22-23</text>
<text x="1966.1" y="1402.3" font-size="24" text-anchor="middle" fill="#4D4D4D" >23-24</text>
<text x="1510.97" y="964.80" font-size="37.50" fill="#000" stroke="#000" stroke-width="0.56" stroke-linejoin="round" textLength="339.03" lengthAdjust="spacingAndGlyphs" style="white-space:pre;letter-spacing:0.04em">Overall xPAR Percentile</text>
<line x1="1851.80" y1="1181.02" x2="1966.10" y2="1270.56" stroke="#000" stroke-width="6.2" stroke-linecap="round"/>
<circle cx="1851.80" cy="1181.02" r="7.3" fill="#000" />
<circle cx="1966.10" cy="1270.56" r="7.3" fill="#000" />
<line x1="1324.80" y1="1798.20" x2="2035.20" y2="1798.20" stroke="#D3D3D3" stroke-width="1.3" />
<line x1="1324.80" y1="1706.20" x2="2035.20" y2="1706.20" stroke="#D3D3D3" stroke-width="1.3" />
<line x1="1324.80" y1="1614.20" x2="2035.20" y2="1614.20" stroke="#D3D3D3" stroke-width="1.3" />
<line x1="1324.80" y1="1522.20" x2="2035.20" y2="1522.20" stroke="#D3D3D3" stroke-width="1.3" />
<line x1="1324.80" y1="1890.20" x2="2035.20" y2="1890.20" stroke="#000" stroke-width="3.2" />
<text x="1310.0" y="1898.8" font-size="24" text-anchor="end" fill="#4D4D4D" >0</text>
<text x="1310.0" y="1806.8" font-size="24" text-anchor="end" fill="#4D4D4D" >25</text>
<text x="1310.0" y="1714.8" font-size="24" text-anchor="end" fill="#4D4D4D" >50</text>
<text x="1310.0" y="1622.8" font-size="24" text-anchor="end" fill="#4D4D4D" >75</text>
<text x="1310.0" y="1530.8" font-size="24" text-anchor="end" fill="#4D4D4D" >100</text>
<text x="1393.6" y="1921.0" font-size="24" text-anchor="middle" fill="#4D4D4D" >18-19</text>
<text x="1508.1" y="1921.0" font-size="24" text-anchor="middle" fill="#4D4D4D" >19-20</text>
<text x="1622.6" y="1921.0" font-size="24" text-anchor="middle" fill="#4D4D4D" >20-21</text>
<text x="1737.1" y="1921.0" font-size="24" text-anchor="middle" fill="#4D4D4D" >21-22</text>
<text x="1851.6" y="1921.0" font-size="24" text-anchor="middle" fill="#4D4D4D" >22-23</text>
<text x="1966.1" y="1921.0" font-size="24" text-anchor="middle" fill="#4D4D4D" >23-24</text>
<text x="1391.60" y="1487.80" font-size="37.50" fill="#0000DD" stroke="#0000DD" stroke-width="0.56" stroke-linejoin="round" textLength="114.52" lengthAdjust="spacingAndGlyphs" style="white-space:pre;letter-spacing:0.04em">Offense</text>
<text x="1536.28" y="1487.80" font-size="37.50" fill="#000" stroke="#000" stroke-width="0.56" stroke-linejoin="round" textLength="33.22" lengthAdjust="spacingAndGlyphs" style="white-space:pre;letter-spacing:0.04em">vs</text>
<text x="1590.18" y="1487.80" font-size="37.50" fill="#E5000F" stroke="#E5000F" stroke-width="0.56" stroke-linejoin="round" textLength="118.75" lengthAdjust="spacingAndGlyphs" style="white-space:pre;letter-spacing:0.04em">Defense</text>
<text x="1735.50" y="1487.80" font-size="37.50" fill="#000" stroke="#000" stroke-width="0.56" stroke-linejoin="round" textLength="32.15" lengthAdjust="spacingAndGlyphs" style="white-space:pre;letter-spacing:0.04em">vs</text>
<text x="1787.52" y="1487.80" font-size="37.50" fill="#7FBEDF" stroke="#7FBEDF" stroke-width="0.56" stroke-linejoin="round" textLength="132.94" lengthAdjust="spacingAndGlyphs" style="white-space:pre;letter-spacing:0.04em">Finishing</text>
<line x1="1851.80" y1="1808.87" x2="1966.10" y2="1655.05" stroke="#FF0000" stroke-width="6.6" stroke-linecap="round"/>
<circle cx="1851.80" cy="1808.87" r="7.6" fill="#FF0000" />
<circle cx="1966.10" cy="1655.05" r="7.6" fill="#FF0000" />
<line x1="1851.80" y1="1714.30" x2="1966.10" y2="1842.73" stroke="#0000EE" stroke-width="6.6" stroke-linecap="round"/>
<circle cx="1851.80" cy="1714.30" r="7.6" fill="#0000EE" />
<circle cx="1966.10" cy="1842.73" r="7.6" fill="#0000EE" />
<line x1="1851.80" y1="1530.30" x2="1966.10" y2="1801.51" stroke="#74B9DB" stroke-width="6.6" stroke-linecap="round"/>
<circle cx="1851.80" cy="1530.30" r="7.6" fill="#74B9DB" />
<circle cx="1966.10" cy="1801.51" r="7.6" fill="#74B9DB" />
<line x1="2152.20" y1="1109.65" x2="2984.20" y2="1109.65" stroke="#D3D3D3" stroke-width="1.3" />
<line x1="2152.20" y1="858.40" x2="2984.20" y2="858.40" stroke="#D3D3D3" stroke-width="1.3" />
<line x1="2152.20" y1="607.15" x2="2984.20" y2="607.15" stroke="#D3D3D3" stroke-width="1.3" />
<line x1="2152.20" y1="355.90" x2="2984.20" y2="355.90" stroke="#D3D3D3" stroke-width="1.3" />
<line x1="2152.20" y1="1360.90" x2="2984.20" y2="1360.90" stroke="#000" stroke-width="3.2" />
<text x="2135.6" y="1369.5" font-size="24" text-anchor="end" fill="#4D4D4D" >0</text>
<text x="2135.6" y="1118.2" font-size="24" text-anchor="end" fill="#4D4D4D" >25</text>
<text x="2135.6" y="867.0" font-size="24" text-anchor="end" fill="#4D4D4D" >50</text>
<text x="2135.6" y="615.8" font-size="24" text-anchor="end" fill="#4D4D4D" >75</text>
<text x="2135.6" y="364.5" font-size="24" text-anchor="end" fill="#4D4D4D" >100</text>
<text x="2175.2" y="1397.0" font-size="24" text-anchor="middle" fill="#4D4D4D" >21-22</text>
<text x="2420.5" y="1397.0" font-size="24" text-anchor="middle" fill="#4D4D4D" >22-23</text>
<text x="2665.8" y="1397.0" font-size="24" text-anchor="middle" fill="#4D4D4D" >23-24</text>
<text x="2486.34" y="291.70" font-size="37.50" fill="#000" stroke="#000" stroke-width="0.56" stroke-linejoin="round" textLength="163.92" lengthAdjust="spacingAndGlyphs" style="white-space:pre;letter-spacing:0.04em">Style Trend</text>
<line x1="2420.70" y1="685.54" x2="2666.10" y2="685.54" stroke="#ECECEC" stroke-width="6.5" stroke-linecap="round"/>
<circle cx="2420.70" cy="685.54" r="7.5" fill="#ECECEC" />
<circle cx="2666.10" cy="685.54" r="7.5" fill="#ECECEC" />
<line x1="2420.70" y1="840.31" x2="2666.10" y2="798.10" stroke="#FCE9DD" stroke-width="6.5" stroke-linecap="round"/>
<circle cx="2420.70" cy="840.31" r="7.5" fill="#FCE9DD" />
<circle cx="2666.10" cy="798.10" r="7.5" fill="#FCE9DD" />
<line x1="2420.70" y1="1047.34" x2="2666.10" y2="1079.50" stroke="#EEF4E8" stroke-width="6.5" stroke-linecap="round"/>
<circle cx="2420.70" cy="1047.34" r="7.5" fill="#EEF4E8" />
<circle cx="2666.10" cy="1079.50" r="7.5" fill="#EEF4E8" />
<line x1="2420.70" y1="1069.45" x2="2666.10" y2="1159.90" stroke="#F1ECE4" stroke-width="6.5" stroke-linecap="round"/>
<circle cx="2420.70" cy="1069.45" r="7.5" fill="#F1ECE4" />
<circle cx="2666.10" cy="1159.90" r="7.5" fill="#F1ECE4" />
<line x1="2420.70" y1="1088.55" x2="2666.10" y2="1169.95" stroke="#FDF2DF" stroke-width="6.5" stroke-linecap="round"/>
<circle cx="2420.70" cy="1088.55" r="7.5" fill="#FDF2DF" />
<circle cx="2666.10" cy="1169.95" r="7.5" fill="#FDF2DF" />
<line x1="2667.00" y1="686.90" x2="2870.50" y2="679.40" stroke="#4A4A4A" stroke-width="2.6" />
<line x1="2667.00" y1="727.30" x2="2856.10" y2="736.60" stroke="#1B8F6E" stroke-width="2.6" />
<line x1="2667.00" y1="798.00" x2="2854.20" y2="797.30" stroke="#D9540A" stroke-width="2.6" />
<line x1="2667.00" y1="889.60" x2="2856.50" y2="862.70" stroke="#666666" stroke-width="2.6" />
<line x1="2667.00" y1="899.00" x2="2776.70" y2="920.50" stroke="#5B4FB0" stroke-width="2.6" />
<line x1="2667.00" y1="1079.20" x2="2776.30" y2="1070.40" stroke="#5E9E22" stroke-width="2.6" />
<line x1="2667.00" y1="1157.60" x2="2699.20" y2="1131.40" stroke="#8E6424" stroke-width="2.6" />
<line x1="2667.00" y1="1170.00" x2="2766.10" y2="1184.60" stroke="#E0A10E" stroke-width="2.6" />
<line x1="2420.70" y1="828.25" x2="2666.10" y2="727.75" stroke="#1B8F6E" stroke-width="6.5" stroke-linecap="round"/>
<circle cx="2420.70" cy="828.25" r="7.8" fill="#1B8F6E" />
<circle cx="2666.10" cy="727.75" r="7.8" fill="#1B8F6E" />
<line x1="2420.70" y1="696.60" x2="2666.10" y2="887.55" stroke="#666666" stroke-width="8.5" stroke-linecap="round"/>
<circle cx="2420.70" cy="696.60" r="7.8" fill="#666666" />
<circle cx="2666.10" cy="887.55" r="7.8" fill="#666666" />
<line x1="2420.70" y1="708.65" x2="2666.10" y2="898.60" stroke="#5B4FB0" stroke-width="7.0" stroke-linecap="round"/>
<circle cx="2420.70" cy="708.65" r="7.8" fill="#5B4FB0" />
<circle cx="2666.10" cy="898.60" r="7.8" fill="#5B4FB0" />
<rect x="2871.30" y="662.40" width="79.70" height="35.00" fill="#FFFFFF" stroke="#555555" stroke-width="1.6" rx="5" />
<text x="2911.2" y="688.4" font-size="24" text-anchor="middle" fill="#444444" >Shots</text>
<rect x="2856.90" y="719.20" width="108.60" height="34.80" fill="#FFFFFF" stroke="#1B8F6E" stroke-width="1.6" rx="5" />
<text x="2911.2" y="745.1" font-size="24" text-anchor="middle" fill="#1B7F62" >Creation</text>
<rect x="2855.00" y="780.60" width="112.30" height="35.00" fill="#FFFFFF" stroke="#D9540A" stroke-width="1.6" rx="5" />
<text x="2911.1" y="806.6" font-size="24" text-anchor="middle" fill="#B5501E" >Crossing</text>
<rect x="2857.30" y="845.30" width="108.30" height="35.40" fill="#FFFFFF" stroke="#666666" stroke-width="1.6" rx="5" />
<text x="2911.4" y="871.5" font-size="24" text-anchor="middle" fill="#555555" >Carrying</text>
<rect x="2777.50" y="902.60" width="196.40" height="35.00" fill="#FFFFFF" stroke="#666666" stroke-width="1.6" rx="5" />
<text x="2875.7" y="928.6" font-size="24" text-anchor="middle" fill="#5B4FB0" >Defensive Action</text>
<rect x="2777.10" y="1053.00" width="197.10" height="35.50" fill="#FFFFFF" stroke="#5E9E22" stroke-width="1.6" rx="5" />
<text x="2875.7" y="1079.2" font-size="24" text-anchor="middle" fill="#5A8F2A" >Long Distribution</text>
<rect x="2700.00" y="1110.20" width="274.20" height="35.60" fill="#FFFFFF" stroke="#8E6424" stroke-width="1.6" rx="5" />
<text x="2837.1" y="1136.5" font-size="24" text-anchor="middle" fill="#8A6230" >Possession Involvement</text>
<rect x="2766.90" y="1167.50" width="207.30" height="34.70" fill="#FFFFFF" stroke="#E0A10E" stroke-width="1.6" rx="5" />
<text x="2870.6" y="1193.3" font-size="24" text-anchor="middle" fill="#D9A030" >Passing Accuracy</text>
<text x="2546.36" y="1483.80" font-size="37.50" fill="#000" stroke="#000" stroke-width="0.56" stroke-linejoin="round" textLength="214.05" lengthAdjust="spacingAndGlyphs" style="white-space:pre;letter-spacing:0.04em">Similar Players</text>
<rect x="2353.60" y="1527.90" width="533.08" height="42.00" fill="#F8818A" stroke="#0A0000" stroke-width="3" rx="0" />
<rect x="2850.18" y="1531.50" width="76.00" height="34.80" fill="#FFFFFF" stroke="#111" stroke-width="1.6" rx="5" />
<text x="2888.2" y="1556.1" font-size="19.5" text-anchor="middle" fill="#000" >97.7%</text>
<text x="2172.59" y="1545.20" font-size="28.00" fill="#000" stroke="#000" stroke-width="0.42" stroke-linejoin="round" textLength="137.48" lengthAdjust="spacingAndGlyphs" style="white-space:pre;letter-spacing:0.04em">Assane Diao</text>
<text x="2182.13" y="1575.00" font-size="28.00" fill="#000" stroke="#000" stroke-width="0.42" stroke-linejoin="round" textLength="127.33" lengthAdjust="spacingAndGlyphs" style="white-space:pre;letter-spacing:0.04em">(Real Betis)</text>
<rect x="2353.60" y="1612.35" width="522.11" height="42.00" fill="#F98C88" stroke="#0A0000" stroke-width="3" rx="0" />
<rect x="2839.21" y="1615.95" width="76.00" height="34.80" fill="#FFFFFF" stroke="#111" stroke-width="1.6" rx="5" />
<text x="2877.2" y="1640.6" font-size="19.5" text-anchor="middle" fill="#000" >95.7%</text>
<text x="2128.77" y="1629.65" font-size="28.00" fill="#000" stroke="#000" stroke-width="0.42" stroke-linejoin="round" textLength="180.25" lengthAdjust="spacingAndGlyphs" style="white-space:pre;letter-spacing:0.04em">Pontus Almqvist</text>
<text x="2226.86" y="1659.45" font-size="28.00" fill="#000" stroke="#000" stroke-width="0.42" stroke-linejoin="round" textLength="82.62" lengthAdjust="spacingAndGlyphs" style="white-space:pre;letter-spacing:0.04em">(Lecce)</text>
<rect x="2353.60" y="1696.80" width="515.52" height="42.00" fill="#F9938A" stroke="#0A0000" stroke-width="3" rx="0" />
<rect x="2832.62" y="1700.40" width="76.00" height="34.80" fill="#FFFFFF" stroke="#111" stroke-width="1.6" rx="5" />
<text x="2870.6" y="1725.0" font-size="19.5" text-anchor="middle" fill="#000" >94.5%</text>
<text x="2129.75" y="1714.10" font-size="28.00" fill="#000" stroke="#000" stroke-width="0.42" stroke-linejoin="round" textLength="180.31" lengthAdjust="spacingAndGlyphs" style="white-space:pre;letter-spacing:0.04em">Nick Woltemade</text>
<text x="2123.37" y="1743.90" font-size="28.00" fill="#000" stroke="#000" stroke-width="0.42" stroke-linejoin="round" textLength="186.05" lengthAdjust="spacingAndGlyphs" style="white-space:pre;letter-spacing:0.04em">(Werder Bremen)</text>
<rect x="2353.60" y="1781.25" width="513.88" height="42.00" fill="#F9968D" stroke="#0A0000" stroke-width="3" rx="0" />
<rect x="2830.98" y="1784.85" width="76.00" height="34.80" fill="#FFFFFF" stroke="#111" stroke-width="1.6" rx="5" />
<text x="2869.0" y="1809.5" font-size="19.5" text-anchor="middle" fill="#000" >94.2%</text>
<text x="2158.78" y="1798.55" font-size="28.00" fill="#000" stroke="#000" stroke-width="0.42" stroke-linejoin="round" textLength="151.29" lengthAdjust="spacingAndGlyphs" style="white-space:pre;letter-spacing:0.04em">Zeki Amdouni</text>
<text x="2209.87" y="1828.35" font-size="28.00" fill="#000" stroke="#000" stroke-width="0.42" stroke-linejoin="round" textLength="99.56" lengthAdjust="spacingAndGlyphs" style="white-space:pre;letter-spacing:0.04em">(Burnley)</text>
<rect x="2353.60" y="1865.70" width="509.49" height="42.00" fill="#F9998E" stroke="#0A0000" stroke-width="3" rx="0" />
<rect x="2826.59" y="1869.30" width="76.00" height="34.80" fill="#FFFFFF" stroke="#111" stroke-width="1.6" rx="5" />
<text x="2864.6" y="1893.9" font-size="19.5" text-anchor="middle" fill="#000" >93.4%</text>
<text x="2165.15" y="1883.00" font-size="28.00" fill="#000" stroke="#000" stroke-width="0.42" stroke-linejoin="round" textLength="144.86" lengthAdjust="spacingAndGlyphs" style="white-space:pre;letter-spacing:0.04em">Luka Romero</text>
<text x="2096.58" y="1912.80" font-size="28.00" fill="#000" stroke="#000" stroke-width="0.42" stroke-linejoin="round" textLength="212.87" lengthAdjust="spacingAndGlyphs" style="white-space:pre;letter-spacing:0.04em">(Almeria, AC Milan)</text>
<text x="60.00" y="1989.30" font-size="27.00" fill="#000" stroke="#000" stroke-width="0.40" stroke-linejoin="round" font-style="italic" textLength="355.00" lengthAdjust="spacingAndGlyphs" style="white-space:pre;letter-spacing:0.04em">Source: Understat, Opta via FBref</text>
<text x="60.00" y="2029.30" font-size="27.00" fill="#000" stroke="#000" stroke-width="0.40" stroke-linejoin="round" font-style="italic" textLength="2893.20" lengthAdjust="spacingAndGlyphs" style="white-space:pre;letter-spacing:0.04em">Notes: Created by @macro_football on 2024-06-01. All percentiles and metrics are relative to all players in the top 5 European leagues. Overall is the player's expected points above replacement (xPAR) percentile. Offense and Defense Impact percentiles and Z-Scores are</text>
<text x="60.00" y="2069.30" font-size="27.00" fill="#000" stroke="#000" stroke-width="0.40" stroke-linejoin="round" font-style="italic" textLength="2878.00" lengthAdjust="spacingAndGlyphs" style="white-space:pre;letter-spacing:0.04em">the player's isolated impact on xGF and xGA (or GF and GA) per 90, controlling for teammates, opposition players, managers, score, situation, etc..., scaled relative to European Top 5 League average. Finishing (or Saving) Impact percentiles and Z-Scores are the player's</text>
<text x="61.00" y="2109.30" font-size="27.00" fill="#000" stroke="#000" stroke-width="0.40" stroke-linejoin="round" font-style="italic" textLength="2901.60" lengthAdjust="spacingAndGlyphs" style="white-space:pre;letter-spacing:0.04em">impact on shot xG, relative to European Top 5 League average. Shot (or xG) Share is the share of the team's shots (or xG) that the player takes when on the field. Usage is the share of the team's xG that the player is responsible for when on the field via either shots or shot</text>
<text x="61.00" y="2149.30" font-size="27.00" fill="#000" stroke="#000" stroke-width="0.40" stroke-linejoin="round" font-style="italic" textLength="2900.20" lengthAdjust="spacingAndGlyphs" style="white-space:pre;letter-spacing:0.04em">assists. Individual characteristics (i.e. dribbling and creating) are based on a dimensionality reduction of each player's micro-statistics (i.e. short pass attempts and interceptions). Player types (i.e. ball-playing defender) are based on a clustering analysis of every player's</text>
<text x="61.00" y="2189.30" font-size="27.00" fill="#000" stroke="#000" stroke-width="0.40" stroke-linejoin="round" font-style="italic" textLength="998.82" lengthAdjust="spacingAndGlyphs" style="white-space:pre;letter-spacing:0.04em">individual characteristics. Player similarity scores are based on the same clustering analysis.</text>
</svg></body></html>
